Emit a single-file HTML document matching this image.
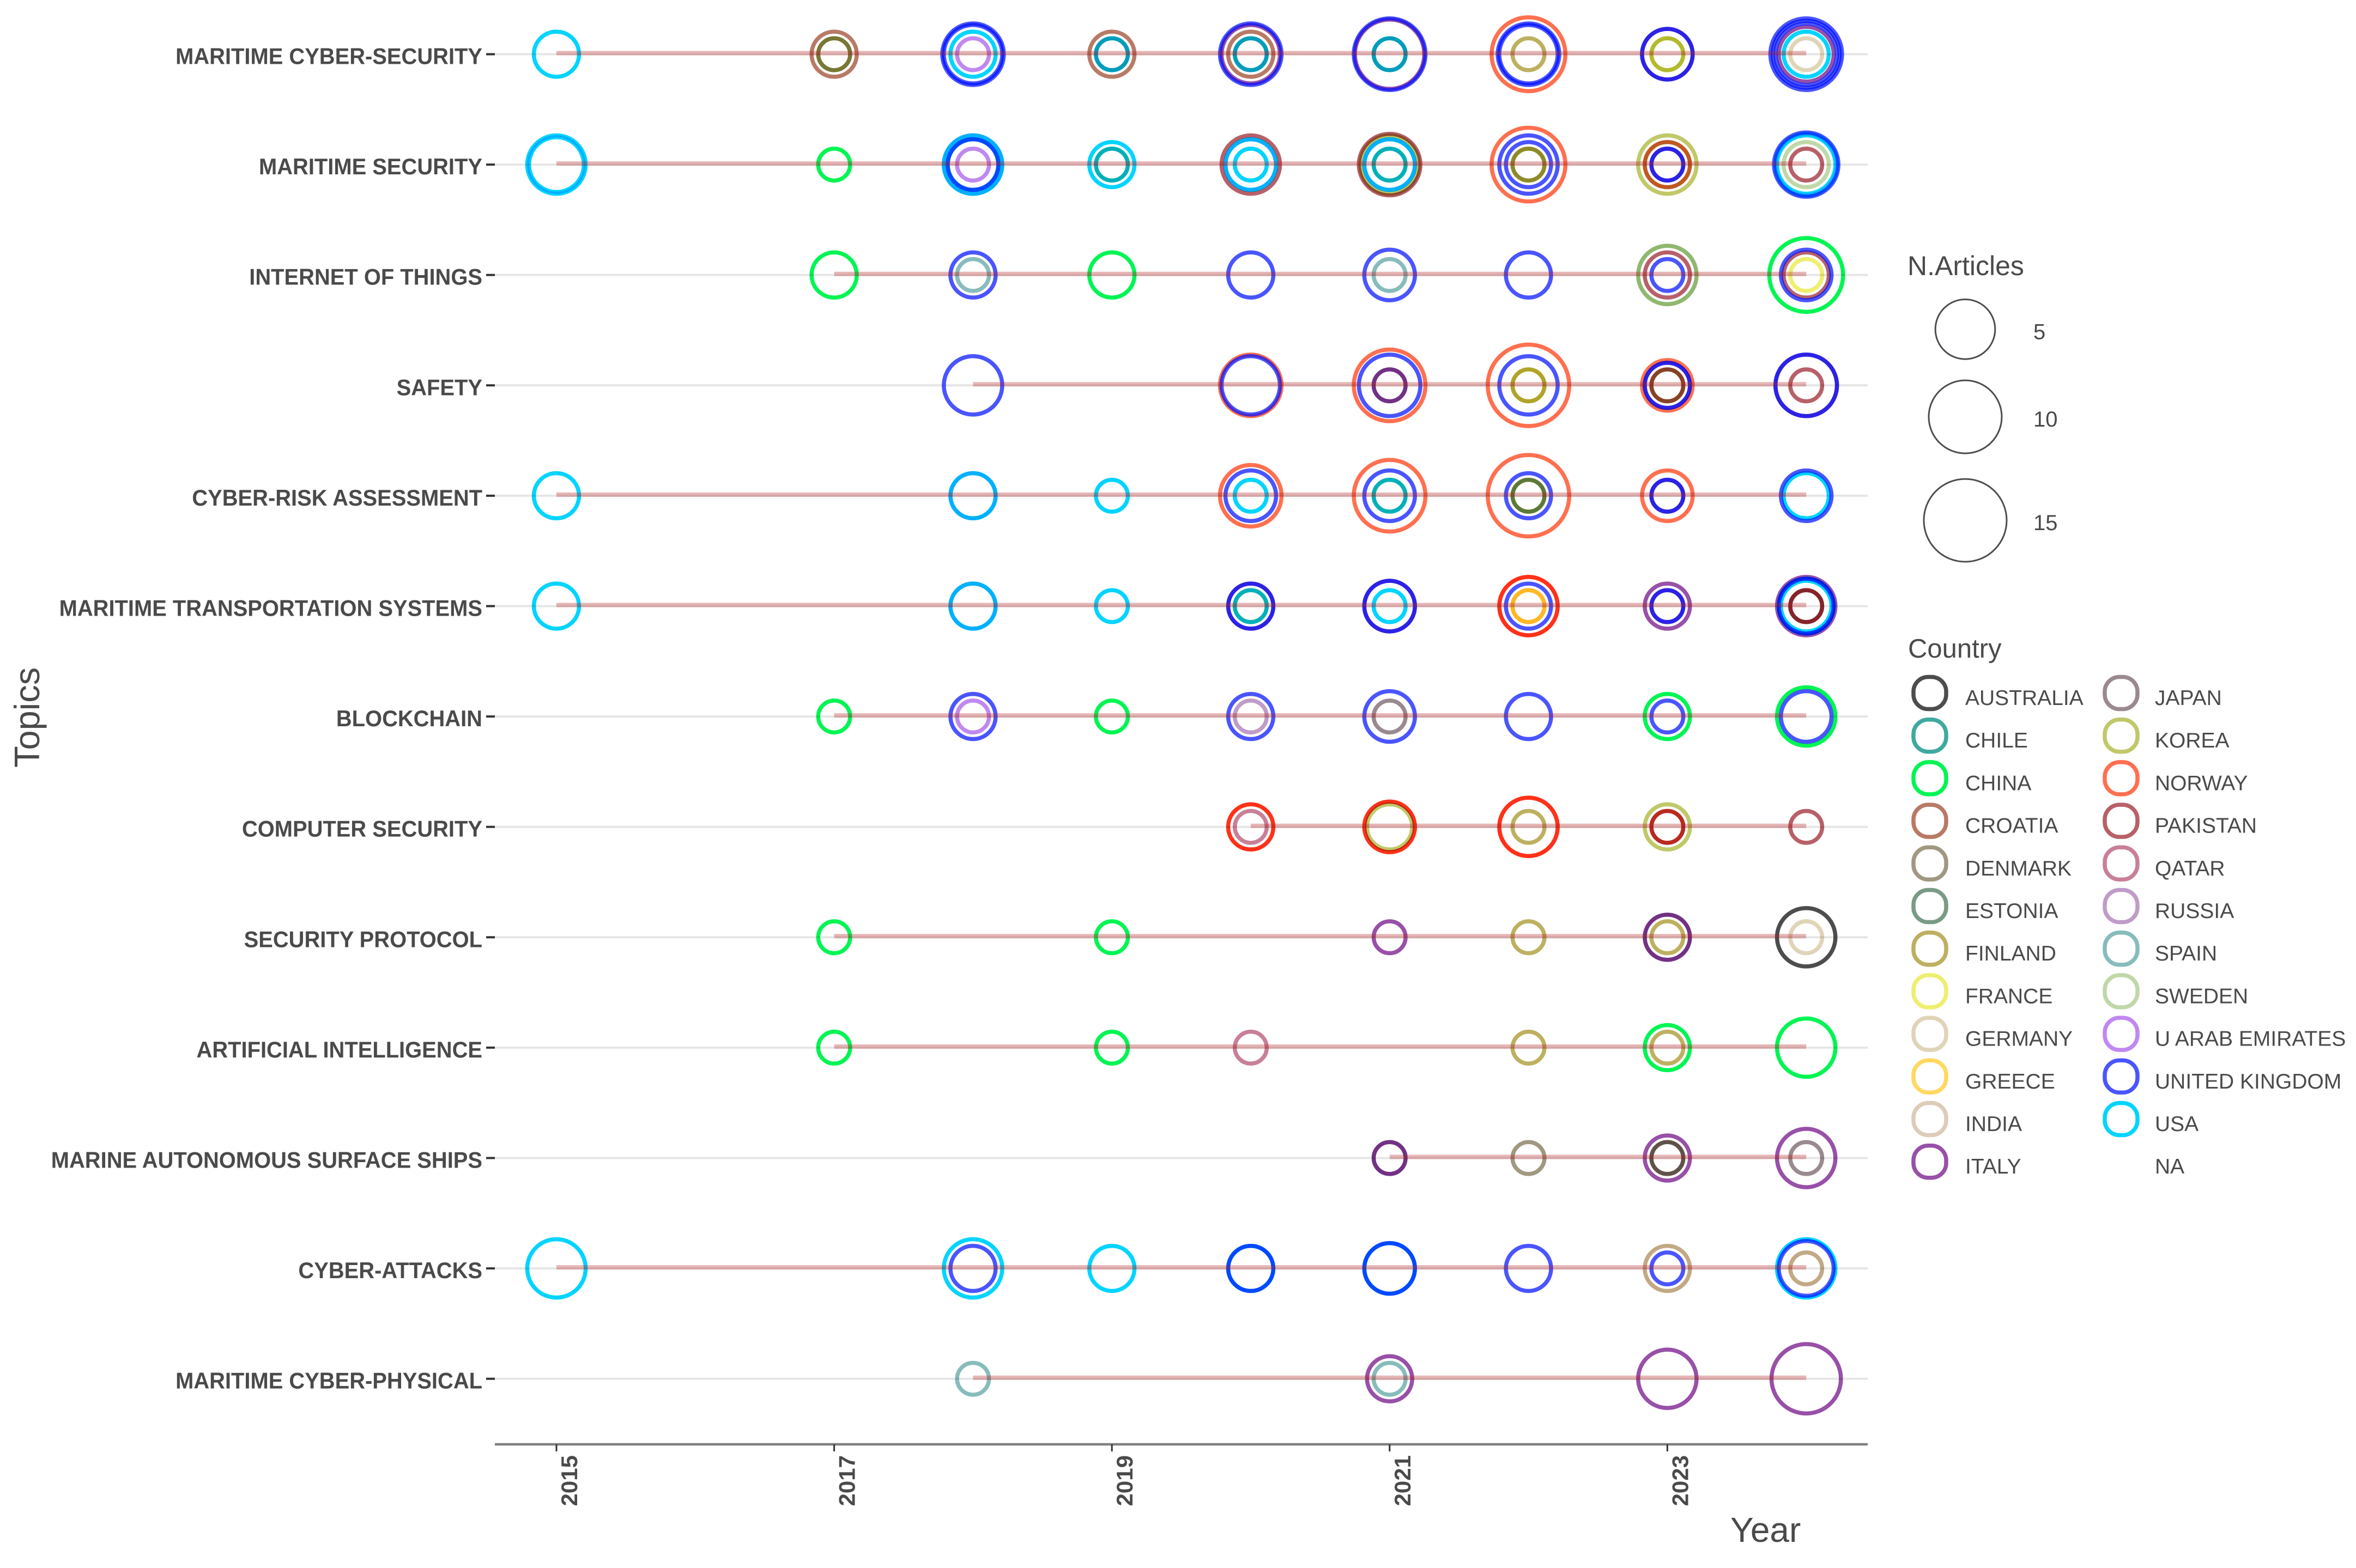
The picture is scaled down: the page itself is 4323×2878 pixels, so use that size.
<!DOCTYPE html>
<html lang="en">
<head>
<meta charset="utf-8">
<title>Topics by Year and Country</title>
<style>
html,body{margin:0;padding:0;background:#fff;}
svg{display:block;isolation:isolate;background:#fff;font-family:"Liberation Sans",sans-serif;}
.ring{mix-blend-mode:multiply;fill:none;}
.ring-over{fill:none;}
</style>
</head>
<body>
<svg id="chart" xmlns="http://www.w3.org/2000/svg" width="4323" height="2878" viewBox="0 0 4323 2878"></svg>
<script>
const topics = ["MARITIME CYBER-SECURITY","MARITIME SECURITY","INTERNET OF THINGS","SAFETY","CYBER-RISK ASSESSMENT","MARITIME TRANSPORTATION SYSTEMS","BLOCKCHAIN","COMPUTER SECURITY","SECURITY PROTOCOL","ARTIFICIAL INTELLIGENCE","MARINE AUTONOMOUS SURFACE SHIPS","CYBER-ATTACKS","MARITIME CYBER-PHYSICAL"];
const yearTicks = [2015,2017,2019,2021,2023];
const sizeBreaks = [5,10,15];
const countriesCol1 = ["AUSTRALIA","CHILE","CHINA","CROATIA","DENMARK","ESTONIA","FINLAND","FRANCE","GERMANY","GREECE","INDIA","ITALY"];
const countriesCol2 = ["JAPAN","KOREA","NORWAY","PAKISTAN","QATAR","RUSSIA","SPAIN","SWEDEN","U ARAB EMIRATES","UNITED KINGDOM","USA","NA"];
const countryColor = {AUSTRALIA:"#4d4d4d",CHILE:"#3fa9a0",CHINA:"#00f553",CROATIA:"#b87a66",DENMARK:"#a09880",ESTONIA:"#7a9a85",FINLAND:"#bdb060",FRANCE:"#eeee70",GERMANY:"#e0d4b8",GREECE:"#ffd860",INDIA:"#ddccb8",ITALY:"#9850a8",JAPAN:"#9a8a90",KOREA:"#c0c868",NORWAY:"#ff7050",PAKISTAN:"#b86068",QATAR:"#c88098",RUSSIA:"#c09cc8",SPAIN:"#88bcbc",SWEDEN:"#c0d8a8","U ARAB EMIRATES":"#c088f0","UNITED KINGDOM":"#4a55ff",USA:"#00d4ff"};

/* each entry: [year, country, number of articles] */
const UK = "UNITED KINGDOM", UAE = "U ARAB EMIRATES";
const maritimeCyberSecurity = [[2015,"USA",2],[2017,"CROATIA",2],[2017,"KOREA",1],[2017,"DENMARK",1],[2018,UK,6],[2018,UK,5],[2018,"USA",2],[2018,UAE,1],[2019,"CROATIA",2],[2019,"USA",1],[2019,"SPAIN",1],[2020,UK,6],[2020,"ITALY",5],[2020,"CROATIA",2],[2020,"USA",1],[2020,"SPAIN",1],[2021,UK,10],[2021,"ITALY",9],[2021,"USA",1],[2021,"SPAIN",1],[2022,"NORWAY",11],[2022,UK,6],[2022,UK,5],[2022,"FINLAND",1],[2023,UK,3],[2023,"ITALY",3],[2023,"KOREA",1],[2023,"FRANCE",1],[2024,UK,10],[2024,UK,8],[2024,UK,6],[2024,"ITALY",4],[2024,"USA",2],[2024,"GERMANY",1]];
const maritimeSecurity = [[2015,"USA",5],[2015,"USA",4],[2017,"CHINA",1],[2018,"USA",5],[2018,"USA",5],[2018,UK,3],[2018,"USA",3],[2018,UAE,1],[2019,"USA",2],[2019,"USA",1],[2019,"GERMANY",1],[2020,"PAKISTAN",5],[2020,"USA",3],[2020,"USA",3],[2020,"USA",1],[2021,"PAKISTAN",6],[2021,"KOREA",5],[2021,"USA",3],[2021,"USA",3],[2021,"USA",1],[2021,"GERMANY",1],[2022,"NORWAY",11],[2022,UK,5],[2022,UK,2],[2022,"FINLAND",1],[2022,"KOREA",1],[2023,"KOREA",5],[2023,"NORWAY",2],[2023,"KOREA",2],[2023,UK,1],[2023,"ITALY",1],[2024,UK,7],[2024,"USA",6],[2024,"USA",5],[2024,"SWEDEN",2],[2024,"PAKISTAN",1]];
const internetOfThings = [[2017,"CHINA",2],[2018,UK,2],[2018,"SPAIN",1],[2019,"CHINA",2],[2020,UK,2],[2021,UK,3],[2021,"SPAIN",1],[2022,UK,2],[2023,"SWEDEN",5],[2023,"SWEDEN",5],[2023,"PAKISTAN",2],[2023,UK,1],[2024,"CHINA",11],[2024,UK,3],[2024,"PAKISTAN",2],[2024,"FRANCE",1]];
const safety = [[2018,UK,5],[2020,"NORWAY",6],[2020,UK,5],[2021,"NORWAY",10],[2021,UK,6],[2021,"ITALY",1],[2021,"RUSSIA",1],[2022,"NORWAY",15],[2022,UK,5],[2022,"FINLAND",1],[2022,"FRANCE",1],[2023,"NORWAY",3],[2023,UK,2],[2023,"ITALY",2],[2023,"PAKISTAN",1],[2023,"FINLAND",1],[2024,UK,6],[2024,"ITALY",6],[2024,"PAKISTAN",1]];
const cyberRiskAssessment = [[2015,"USA",2],[2018,"USA",2],[2018,"USA",2],[2019,"USA",1],[2020,"NORWAY",6],[2020,UK,3],[2020,"USA",1],[2021,"NORWAY",10],[2021,UK,3],[2021,"USA",1],[2021,"GERMANY",1],[2022,"NORWAY",15],[2022,UK,2],[2022,"ESTONIA",1],[2022,"KOREA",1],[2023,"NORWAY",3],[2023,UK,1],[2023,"ITALY",1],[2024,UK,3],[2024,"USA",2]];
const maritimeTransportationSystems = [[2015,"USA",2],[2018,"USA",2],[2018,"USA",2],[2019,"USA",1],[2020,UK,2],[2020,"ITALY",2],[2020,"USA",1],[2020,"GERMANY",1],[2021,UK,3],[2021,"ITALY",3],[2021,"USA",1],[2022,"NORWAY",5],[2022,"NORWAY",5],[2022,UK,2],[2022,"GREECE",1],[2022,"GREECE",1],[2023,"ITALY",2],[2023,UK,1],[2023,"ITALY",1],[2024,"ITALY",5],[2024,UK,4],[2024,"USA",4],[2024,"USA",3],[2024,"PAKISTAN",1],[2024,"PAKISTAN",1]];
const blockchain = [[2017,"CHINA",1],[2018,UK,2],[2018,UAE,1],[2019,"CHINA",1],[2020,UK,2],[2020,"RUSSIA",1],[2021,UK,3],[2021,"JAPAN",1],[2022,UK,2],[2023,"CHINA",2],[2023,UK,1],[2024,"CHINA",5],[2024,UK,3]];
const computerSecurity = [[2020,"NORWAY",2],[2020,"NORWAY",2],[2020,"QATAR",1],[2021,"NORWAY",3],[2021,"NORWAY",3],[2021,"KOREA",2],[2022,"NORWAY",5],[2022,"NORWAY",5],[2022,"FINLAND",1],[2023,"KOREA",2],[2023,"NORWAY",1],[2023,"PAKISTAN",1],[2024,"PAKISTAN",1]];
const securityProtocol = [[2017,"CHINA",1],[2019,"CHINA",1],[2021,"ITALY",1],[2022,"FINLAND",1],[2023,"ITALY",2],[2023,"RUSSIA",2],[2023,"FINLAND",1],[2024,"AUSTRALIA",5],[2024,"GERMANY",1]];
const artificialIntelligence = [[2017,"CHINA",1],[2019,"CHINA",1],[2020,"QATAR",1],[2022,"FINLAND",1],[2023,"CHINA",2],[2023,"FINLAND",1],[2024,"CHINA",5]];
const marineAutonomousSurfaceShips = [[2021,"ITALY",1],[2021,"RUSSIA",1],[2022,"DENMARK",1],[2023,"ITALY",2],[2023,"DENMARK",1],[2023,"JAPAN",1],[2024,"ITALY",5],[2024,"JAPAN",1]];
const cyberAttacks = [[2015,"USA",5],[2018,"USA",5],[2018,UK,2],[2019,"USA",2],[2020,UK,2],[2020,"USA",2],[2021,UK,3],[2021,"USA",3],[2022,UK,2],[2023,"INDIA",2],[2023,"GERMANY",2],[2023,UK,1],[2024,"USA",5],[2024,UK,4],[2024,"INDIA",1],[2024,"GERMANY",1]];
const maritimeCyberPhysical = [[2018,"SPAIN",1],[2021,"ITALY",2],[2021,"SPAIN",1],[2023,"ITALY",5],[2024,"ITALY",9]];
const seriesByTopic = [maritimeCyberSecurity,maritimeSecurity,internetOfThings,safety,cyberRiskAssessment,maritimeTransportationSystems,blockchain,computerSecurity,securityProtocol,artificialIntelligence,marineAutonomousSurfaceShips,cyberAttacks,maritimeCyberPhysical];

const svg = document.getElementById('chart');
const NS = 'http://www.w3.org/2000/svg';
function add(tag, attrs, text){
  const e = document.createElementNS(NS, tag);
  for (const k in attrs) e.setAttribute(k, attrs[k]);
  if (text !== undefined) e.textContent = text;
  svg.appendChild(e);
  return e;
}
/* axis functions */
const xScale = yr => 1021 + 254.8 * (yr - 2015);
const yScale = i => 99.5 + 202.6 * i;
const diameter = n => 66 + 91 * Math.sqrt(Math.max(n - 1, 0) / 14);
const slug = s => s.toLowerCase().replace(/[^a-z0-9]+/g, '-');
const AXIS_LEFT = 908, AXIS_RIGHT = 3427, AXIS_Y = 2651;
const TEXT = '#4a4a4a';

/* gridlines, y ticks, y labels */
topics.forEach((t, i) => {
  const y = yScale(i);
  const grid = add('line', {x1:AXIS_LEFT, x2:AXIS_RIGHT, y1:y, y2:y, stroke:'#e6e6e6', 'stroke-width':4});
  
  
  const tick = add('line', {x1:892, x2:AXIS_LEFT, y1:y, y2:y, stroke:'#333', 'stroke-width':4});
  
  
  const label = add('text', {transform:`translate(885,${y + 18}) scale(.95,1)`, 'text-anchor':'end', 'font-size':42, 'font-weight':'bold', fill:TEXT}, t);
  
  
});

/* x axis */
const axisLine = add('line', {x1:AXIS_LEFT, x2:AXIS_RIGHT, y1:AXIS_Y, y2:AXIS_Y, stroke:'#808080', 'stroke-width':4.5});


yearTicks.forEach(yr => {
  const x = xScale(yr);
  const tick = add('line', {x1:x, x2:x, y1:AXIS_Y, y2:AXIS_Y + 13, stroke:'#333', 'stroke-width':3});
  
  
  const label = add('text', {transform:`translate(${x + 38},${AXIS_Y + 20}) rotate(-90)`, 'text-anchor':'end', 'font-size':42, 'font-weight':'bold', fill:TEXT}, String(yr));
  
  
});

/* topic marks: rings (UK composited last as translucent blue), then trend segment */
seriesByTopic.forEach((series, i) => {
  const y = yScale(i);
  const yrs = series.map(d => d[0]);
  const ordered = series.filter(d => d[1] !== UK).concat(series.filter(d => d[1] === UK));
  ordered.forEach(d => {
    const isUK = d[1] === UK;
    const ring = add('circle', {class:isUK ? 'ring-over' : 'ring', cx:xScale(d[0]), cy:y, r:(diameter(d[2]) - 7.5) / 2, stroke:isUK ? '#000fff' : countryColor[d[1]], 'stroke-opacity':isUK ? 0.71 : 1, 'stroke-width':7.5});
    
    
  });
  const seg = add('line', {x1:xScale(Math.min(...yrs)), x2:xScale(Math.max(...yrs)), y1:y - 2, y2:y - 2, stroke:'#b22222', 'stroke-opacity':0.33, 'stroke-width':8});
  
  
});

/* axis titles */
const xTitle = add('text', {x:3175, y:2830, 'font-size':64, fill:TEXT}, 'Year');


const yTitle = add('text', {transform:'translate(72,1409) rotate(-90)', 'font-size':65, fill:TEXT}, 'Topics');



/* size legend */
const sizeTitle = add('text', {x:3500, y:505, 'font-size':50, fill:TEXT}, 'N.Articles');


let sizeCursor = 548;
sizeBreaks.forEach((n, i) => {
  const d = diameter(n) - 2;
  const cy = sizeCursor + d / 2;
  const key = add('circle', {cx:3606, cy:cy, r:(d - 3) / 2, fill:'none', stroke:'#4d4d4d', 'stroke-width':3});
  
  
  const lab = add('text', {x:3731, y:cy + 18, 'font-size':40, fill:TEXT}, String(n));
  
  
  sizeCursor += d + 36 + 8 * i;
});

/* country legend */
const countryTitle = add('text', {x:3501, y:1207, 'font-size':49, fill:TEXT}, 'Country');


function legendColumn(names, keyX, labelX){
  names.forEach((name, i) => {
    const cy = 1272 + 78.2 * i;
    if (countryColor[name]) {
      const key = add('rect', {x:keyX - 30, y:cy - 29.5, width:60, height:59, rx:27, ry:27, fill:'none', stroke:countryColor[name], 'stroke-width':7.5});
      
      
    }
    const lab = add('text', {x:labelX, y:cy + 22, 'font-size':39, fill:TEXT}, name);
    
    
  });
}
legendColumn(countriesCol1, 3541, 3606);
legendColumn(countriesCol2, 3892, 3954);
</script>
</body>
</html>
